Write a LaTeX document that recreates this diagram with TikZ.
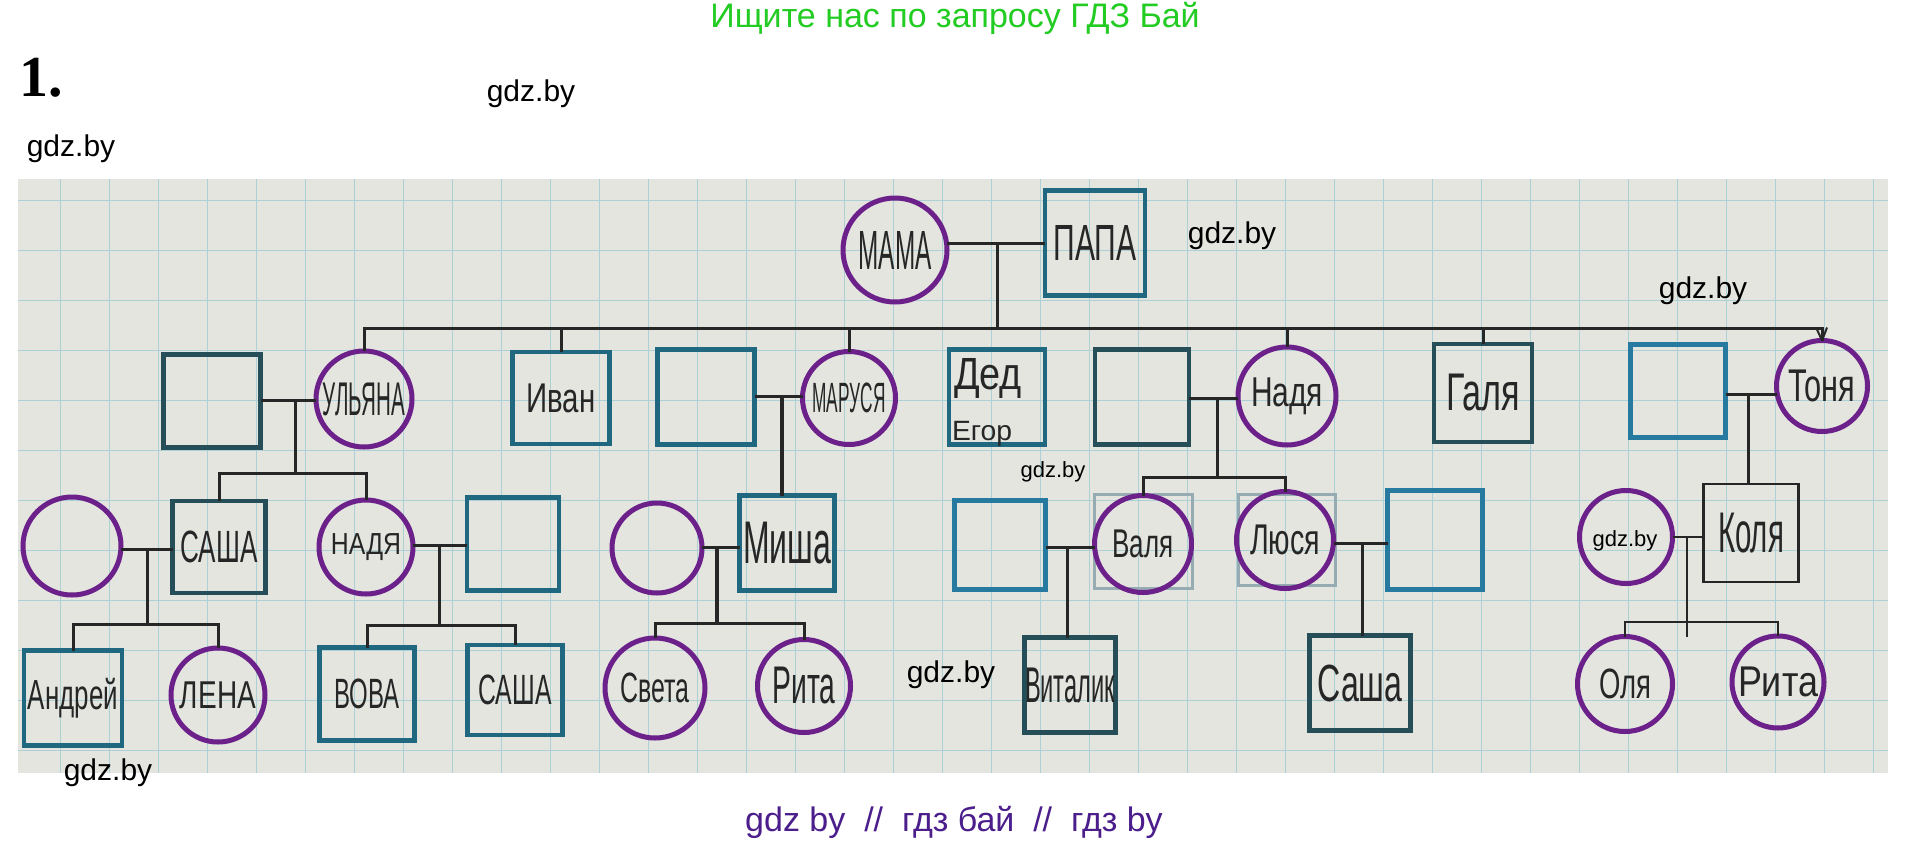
\documentclass[tikz,border=0pt]{standalone}
\usepackage{fontspec}
\setmainfont{Liberation Sans}
\newfontfamily\numfont{Liberation Serif}
\usepackage{graphicx}
\definecolor{paper}{RGB}{228,229,223}
\definecolor{gridc}{RGB}{172,208,214}
\definecolor{purp}{RGB}{108,32,138}
\definecolor{tealA}{RGB}{31,104,128}
\definecolor{tealB}{RGB}{38,78,88}
\definecolor{blueC}{RGB}{38,122,160}
\definecolor{ink}{RGB}{38,38,38}
\definecolor{faint}{RGB}{150,172,178}
\definecolor{hdrgreen}{RGB}{34,204,34}
\definecolor{ftpurple}{RGB}{75,30,140}
\newcommand{\hwtxt}[3]{\resizebox*{#1pt}{#2pt}{#3}}
\begin{document}
\begin{tikzpicture}[x=1pt,y=-1pt,
  fem/.style={circle,draw=purp,line width=5pt,inner sep=0pt,outer sep=0pt,minimum size=#1pt,text=ink},
  fem/.default=96,
  male/.style={rectangle,draw=tealA,line width=4.5pt,inner sep=0pt,outer sep=0pt,text=ink},
  sz/.style 2 args={minimum width=#1pt,minimum height=#2pt},
  ghost/.style={rectangle,draw=faint,line width=3pt,inner sep=0pt,outer sep=0pt},
  link/.style={draw=ink,line width=3pt},
  gridl/.style={draw=gridc,line width=1pt},
  wm/.style={font=\fontsize{30}{36}\selectfont,text=black,inner sep=0pt},
  wms/.style={font=\fontsize{22}{26}\selectfont,text=black,inner sep=0pt},
  lbl/.style={text=ink,inner sep=0pt}]
\fill[white] (0,0) rectangle (1910,844);
\path[use as bounding box] (0,0) rectangle (1910,844);
% photo of squared paper
\fill[paper] (18,179) rectangle (1888,773);
\begin{scope}
\clip (18,179) rectangle (1888,773);
\foreach \i in {0,...,37} \draw[gridl] ({60+49*\i},179) -- ({60+49*\i},773);
\foreach \j in {0,...,11} \draw[gridl] (18,{200+50*\j}) -- (1888,{200+50*\j});
\end{scope}

% header texts
\node[text=hdrgreen,font=\fontsize{34}{40}\selectfont,inner sep=0pt] (hdr) at (955,18) {Ищите нас по запросу ГДЗ Бай};
\node[font=\numfont\bfseries\fontsize{58}{64}\selectfont,inner sep=0pt] (num) at (41,78) {1.};
\node[text=ftpurple,font=\fontsize{34}{40}\selectfont,inner sep=0pt] (ftr) at (954,822) {gdz by\ \ //\ \ гдз бай\ \ //\ \ гдз by};

% generation 0
\node[fem=104] (mama) at (895,250) {\hwtxt{73}{38}{МАМА}};
\node[male,sz={100}{105}] (papa) at (1095,243) {\hwtxt{83}{35}{ПАПА}};

% generation 1
\node[male,draw=tealB,sz={97}{93}] (husb1) at (212,401) {};
\node[fem=96] (ulyana) at (364,399) {\hwtxt{82}{33}{УЛЬЯНА}};
\node[male,sz={97}{92}] (ivan) at (561,398) {\hwtxt{69}{29}{Иван}};
\node[male,sz={97}{95}] (husb3) at (706,397) {};
\node[fem=93] (marusya) at (849,398) {\hwtxt{73}{30}{МАРУСЯ}};
\node[male,sz={96}{95}] (ded) at (997,397) {};
\node[lbl] (deda) at (988,378) {\hwtxt{68}{40}{Дед}};
\node[lbl] (dedb) at (982,434) {\hwtxt{60}{25}{Егор}};
\node[male,draw=tealB,sz={94}{95}] (husb4) at (1142,397) {};
\node[fem=98] (nadya1) at (1287,396) {\hwtxt{72}{37}{Надя}};
\node[male,draw=tealB,sz={98}{98}] (galya) at (1483,393) {\hwtxt{74}{37}{Галя}};
\node[male,draw=blueC,sz={95}{93}] (husb7) at (1678,391) {};
\node[fem=91] (tonya) at (1822,386) {\hwtxt{67}{32}{Тоня}};

% generation 2
\node[fem=98] (wife1) at (72,546) {};
\node[male,draw=tealB,sz={93}{92}] (sasha1) at (219,547) {\hwtxt{77}{32}{САША}};
\node[fem=94] (nadya2) at (366,547) {\hwtxt{70}{27}{НАДЯ}};
\node[male,sz={92}{93}] (husb2) at (513,544) {};
\node[fem=90] (wife2) at (657,548) {};
\node[male,sz={95}{95}] (misha) at (787,543) {\hwtxt{88}{42}{Миша}};
\node[male,draw=blueC,sz={91}{89}] (husb5) at (1000,545) {};
\node[ghost,sz={98}{94}] (valyabg) at (1143,541) {};
\node[ghost,sz={97}{91}] (lyusyabg) at (1287,540) {};
\node[fem=97] (valya) at (1143,544) {\hwtxt{61}{28}{Валя}};
\node[fem=97] (lyusya) at (1285,540) {\hwtxt{70}{30}{Люся}};
\node[male,draw=blueC,sz={95}{99}] (husb6) at (1435,540) {};
\node[fem=93] (wife3) at (1626,537) {};
\node[male,draw=ink,line width=2.5pt,sz={95}{98}] (kolya) at (1751,533) {\hwtxt{66}{40}{Коля}};

% generation 3
\node[male,sz={98}{95}] (andrey) at (73,698) {\hwtxt{90}{40}{Андрей}};
\node[fem=94] (lena) at (218,695) {\hwtxt{76}{27}{ЛЕНА}};
\node[male,sz={95}{93}] (vova) at (367,694) {\hwtxt{65}{30}{ВОВА}};
\node[male,sz={95}{90}] (sasha2) at (515,690) {\hwtxt{73}{30}{САША}};
\node[fem=100] (sveta) at (655,688) {\hwtxt{69}{30}{Света}};
\node[fem=93] (rita1) at (804,686) {\hwtxt{63}{37}{Рита}};
\node[male,draw=tealB,sz={91}{95}] (vitalik) at (1070,685) {\hwtxt{90}{35}{Виталик}};
\node[male,draw=tealB,sz={101}{95}] (sasha3) at (1360,683) {\hwtxt{85}{37}{Саша}};
\node[fem=95] (olya) at (1625,684) {\hwtxt{52}{30}{Оля}};
\node[fem=92] (rita2) at (1778,682) {\hwtxt{80}{30}{Рита}};

% connectors: parents
\coordinate (m0) at (997,243);
\coordinate (sib) at (997,328);
\draw[link] (mama.east |- m0) -- (papa.west |- m0);
\draw[link] (m0) -- (sib);
\draw[link] (ulyana.north) |- (sib) -| (tonya.north);
\foreach \n in {ivan,marusya,nadya1,galya} \draw[link] (\n.north) -- (\n.north |- sib);
\draw[link,line width=2pt] (tonya.north) -- ++(-5,-11);
\draw[link,line width=2pt] (tonya.north) -- ++(5,-13);

% Ulyana
\coordinate (m1) at (295,400);
\coordinate (c1) at (295,473);
\draw[link] (husb1.east |- m1) -- (ulyana.west |- m1);
\draw[link] (m1) -- (c1);
\draw[link] (sasha1.north) |- (c1) -| (nadya2.north);

% Sasha
\coordinate (m2) at (147,549);
\coordinate (c2) at (147,624);
\draw[link] (wife1.east |- m2) -- (sasha1.west |- m2);
\draw[link] (m2) -- (c2);
\draw[link] (andrey.north) |- (c2) -| (lena.north);

% Nadya (gen 2)
\coordinate (m3) at (439,545);
\coordinate (c3) at (439,625);
\draw[link] (nadya2.east |- m3) -- (husb2.west |- m3);
\draw[link] (m3) -- (c3);
\draw[link] (vova.north) |- (c3) -| (sasha2.north);

% Marusya
\coordinate (m4) at (782,396);
\draw[link] (husb3.east |- m4) -- (marusya.west |- m4);
\draw[link,line width=4pt] (m4) -- (m4 |- misha.north);

% Misha
\coordinate (m5) at (717,547);
\coordinate (c5) at (717,623);
\draw[link] (wife2.east |- m5) -- (misha.west |- m5);
\draw[link,line width=4pt] (m5) -- (c5);
\draw[link] (sveta.north) |- (c5) -| (rita1.north);

% Nadya (gen 1)
\coordinate (m6) at (1217,398);
\coordinate (c6) at (1217,477);
\draw[link] (husb4.east |- m6) -- (nadya1.west |- m6);
\draw[link] (m6) -- (c6);
\draw[link] (valya.north) |- (c6) -| (lyusya.north);

% Valya
\coordinate (m7) at (1067,547);
\draw[link] (husb5.east |- m7) -- (valya.west |- m7);
\draw[link] (m7) -- (m7 |- vitalik.north);

% Lyusya
\coordinate (m8) at (1362,543);
\draw[link] (lyusya.east |- m8) -- (husb6.west |- m8);
\draw[link] (m8) -- (m8 |- sasha3.north);

% Tonya
\coordinate (m9) at (1748,394);
\draw[link] (husb7.east |- m9) -- (tonya.west |- m9);
\draw[link] (m9) -- (m9 |- kolya.north);

% Kolya
\coordinate (m10) at (1687,537);
\coordinate (c10) at (1687,622);
\coordinate (e10) at (1687,637);
\draw[link,line width=2.5pt] (wife3.east |- m10) -- (kolya.west |- m10);
\draw[link,line width=2.5pt] (m10) -- (e10);
\draw[link,line width=2.5pt] (olya.north) |- (c10) -| (rita2.north);

% watermarks
\node[wm] (w1) at (531,94) {gdz.by};
\node[wm] (w2) at (71,149) {gdz.by};
\node[wm] (w3) at (1232,236) {gdz.by};
\node[wm] (w4) at (1703,291) {gdz.by};
\node[wms] (w5) at (1053,472) {gdz.by};
\node[wms] (w6) at (1625,541) {gdz.by};
\node[wm] (w7) at (951,675) {gdz.by};
\node[wm] (w8) at (108,773) {gdz.by};
\end{tikzpicture}
\end{document}
